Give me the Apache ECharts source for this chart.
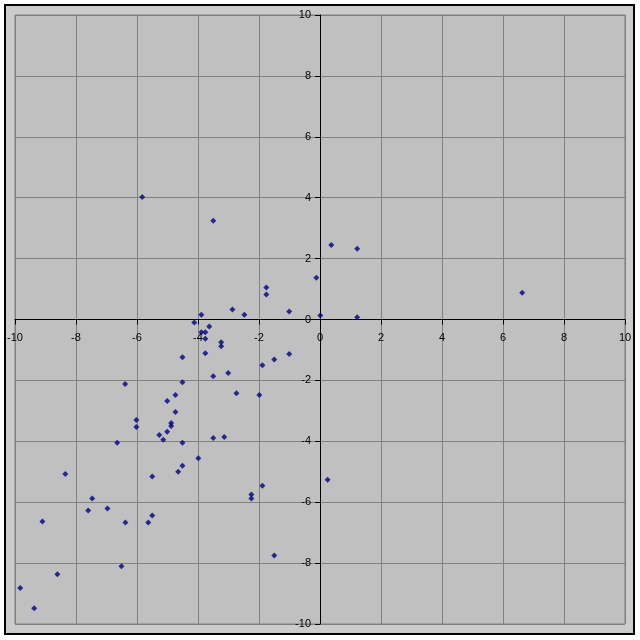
<!DOCTYPE html>
<html>
<head>
<meta charset="utf-8">
<script src="https://cdn.jsdelivr.net/npm/echarts@6/dist/echarts.min.js"></script>
<style>
html,body{margin:0;padding:0;background:#ffffff;}
#frame{position:absolute;left:4px;top:4px;width:627px;height:627px;border:2px solid #000;background:#cccccc;}
#chart{position:absolute;left:0;top:0;width:640px;height:640px;}
</style>
</head>
<body>
<div id="frame"></div>
<div id="chart"></div>
<script>
const xValues = [-5.83,-3.50,-1.76,-1.76,-0.12,-2.87,-2.48,-1.01,-3.89,-4.12,-3.63,-3.89,-3.76,-3.76,0.01,0.37,1.22,1.22,6.63,-3.24,-3.24,-3.76,-4.51,-1.01,-1.50,-1.89,-3.01,-3.50,-4.51,-6.39,-2.74,-1.99,-4.74,-5.01,-4.74,-6.02,-6.02,-4.88,-4.88,-5.01,-5.27,-5.14,-3.50,-3.14,-4.51,-3.99,-6.65,-4.51,-4.65,-5.50,-8.35,-7.47,-7.60,-6.97,-9.10,-6.38,-5.63,-5.50,-6.51,-8.61,-9.83,-9.37,-2.25,-2.25,-1.89,-1.50,0.25];
const yValues = [4.02,3.24,1.05,0.82,1.37,0.33,0.16,0.26,0.16,-0.10,-0.23,-0.42,-0.42,-0.63,0.13,2.45,2.32,0.07,0.88,-0.75,-0.88,-1.11,-1.24,-1.13,-1.31,-1.50,-1.76,-1.86,-2.06,-2.12,-2.42,-2.48,-2.48,-2.68,-3.04,-3.30,-3.53,-3.40,-3.50,-3.69,-3.79,-3.95,-3.89,-3.86,-4.05,-4.56,-4.05,-4.80,-5.00,-5.16,-5.07,-5.88,-6.27,-6.21,-6.63,-6.67,-6.67,-6.44,-8.10,-8.37,-8.82,-9.48,-5.75,-5.88,-5.46,-7.75,-5.26];
const axisMin = -10, axisMax = 10, axisStep = 2;

const points = xValues.map((x, i) => [x, yValues[i]]);
const gridL = 15, gridR = 15, gridT = 15, gridB = 16;
const W = 640, H = 640;
const plotW = W - gridL - gridR, plotH = H - gridT - gridB;
const zeroFracX = (0 - axisMin) / (axisMax - axisMin);
const zeroFracY = (0 - axisMin) / (axisMax - axisMin);
const chart = echarts.init(document.getElementById('chart'), null, {renderer: 'canvas'});
const labelFont = {color: '#000', fontSize: 11, fontFamily: 'Liberation Sans, Arial, sans-serif'};
chart.setOption({
  backgroundColor: 'transparent',
  animation: false,
  grid: {left: gridL, right: gridR, top: gridT, bottom: gridB, containLabel: false, outerBoundsMode: 'none',
         show: true, backgroundColor: '#c0c0c0', borderColor: '#808080', borderWidth: 1},
  xAxis: {
    type: 'value', min: axisMin, max: axisMax, interval: axisStep,
    position: 'bottom', offset: -plotH * zeroFracY,
    axisLine: {onZero: false, lineStyle: {color: '#000', width: 1}},
    axisTick: {show: true, inside: false, length: 5, lineStyle: {color: '#000', width: 1}},
    axisLabel: Object.assign({margin: 3, padding: [10, 0, 0, 0], showMinLabel: true, showMaxLabel: true, hideOverlap: false}, labelFont),
    splitLine: {show: true, lineStyle: {color: '#808080', width: 1}}
  },
  yAxis: {
    type: 'value', min: axisMin, max: axisMax, interval: axisStep,
    position: 'left', offset: -plotW * zeroFracX,
    axisLine: {onZero: false, lineStyle: {color: '#000', width: 1}},
    axisTick: {show: true, inside: false, length: 5, lineStyle: {color: '#000', width: 1}},
    axisLabel: Object.assign({margin: 4, padding: [0, 5, 0, 0], showMinLabel: true, showMaxLabel: true, hideOverlap: false}, labelFont),
    splitLine: {show: true, lineStyle: {color: '#808080', width: 1}}
  },
  series: [{
    type: 'scatter',
    data: points,
    symbol: 'diamond',
    symbolSize: 6,
    itemStyle: {color: '#000080'}
  }]
});
</script>
</body>
</html>
